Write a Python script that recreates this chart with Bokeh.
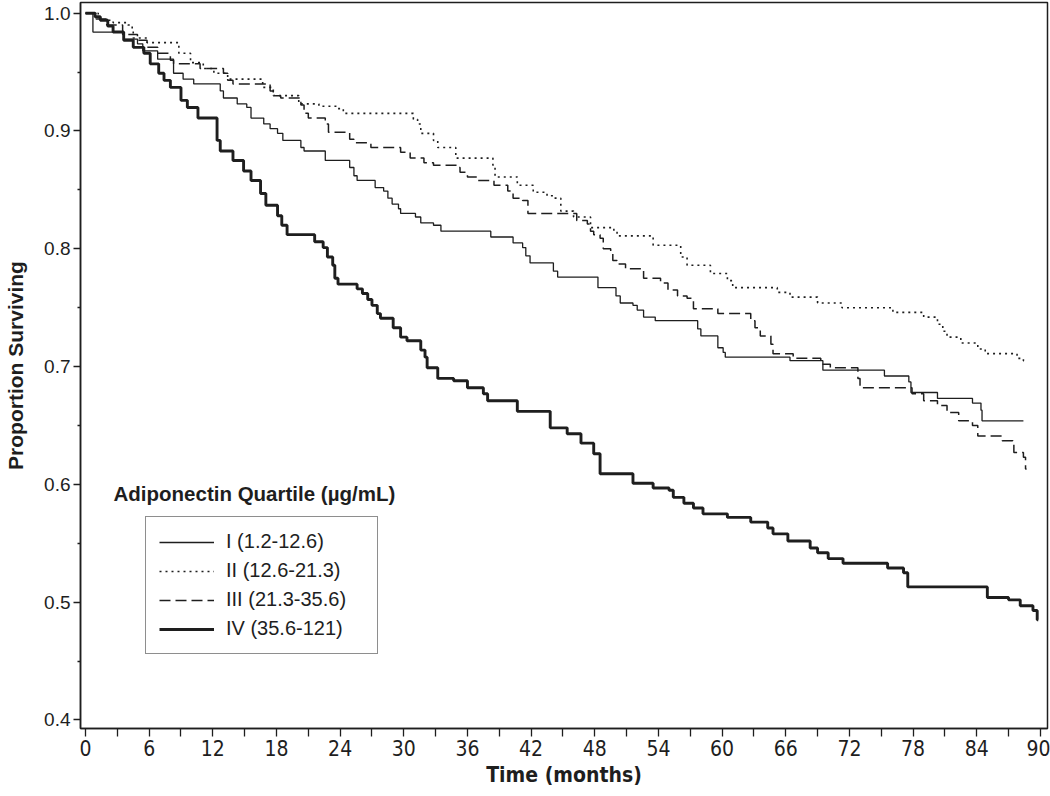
from bokeh.plotting import figure
from bokeh.models import FixedTicker, PrintfTickFormatter, Legend, LegendItem, Label, Range1d
from bokeh.embed import file_html
from bokeh.resources import INLINE

# Kaplan-Meier step data (event time in months, survival after the event)
t_I = [0.7, 3.6, 4.9, 5.4, 6.8, 8.3, 9.2, 10.2, 12.7, 13.0, 14.3, 15.2, 15.6, 16.8, 17.4, 18.1, 18.6,
       20.3, 20.6, 22.6, 24.9, 25.3, 25.6, 27.3, 28.1, 28.5, 28.9, 29.5, 29.7, 31.1, 31.6, 32.8, 33.5,
       38.2, 40.3, 41.2, 41.5, 41.9, 44.1, 44.5, 48.3, 50.0, 50.4, 51.6, 52.0, 52.6, 53.7, 57.7, 58.0,
       59.6, 60.1, 60.3, 66.4, 69.5, 75.3, 77.6, 77.8, 80.3, 83.6, 84.4, 84.5]
s_I = [0.984, 0.978, 0.974, 0.968, 0.961, 0.949, 0.944, 0.940, 0.934, 0.928, 0.923, 0.920, 0.911, 0.906,
       0.902, 0.898, 0.892, 0.886, 0.883, 0.875, 0.869, 0.862, 0.858, 0.852, 0.849, 0.843, 0.838, 0.834,
       0.830, 0.827, 0.822, 0.820, 0.815, 0.810, 0.805, 0.801, 0.794, 0.788, 0.781, 0.776, 0.767, 0.760,
       0.754, 0.752, 0.748, 0.742, 0.739, 0.732, 0.726, 0.716, 0.712, 0.708, 0.705, 0.697, 0.692, 0.687,
       0.678, 0.673, 0.669, 0.663, 0.654]
end_I = 88.4

t_II = [1.2, 1.7, 2.6, 4.0, 4.4, 4.5, 5.8, 8.8, 9.9, 11.1, 12.1, 13.4, 16.7, 17.7, 20.1, 22.0, 23.8,
        24.3, 30.9, 31.3, 31.6, 32.8, 33.2, 34.9, 38.4, 38.6, 40.7, 42.2, 43.5, 44.1, 44.8, 46.0, 47.6,
        49.8, 50.1, 53.5, 56.1, 56.7, 58.9, 60.5, 61.0, 65.2, 66.4, 69.0, 71.3, 76.1, 79.0, 80.3, 80.8,
        81.2, 82.5, 84.1, 84.8, 87.8, 88.4]
s_II = [0.996, 0.994, 0.992, 0.990, 0.984, 0.979, 0.975, 0.966, 0.958, 0.953, 0.949, 0.944, 0.937,
        0.930, 0.923, 0.921, 0.919, 0.915, 0.910, 0.906, 0.898, 0.892, 0.886, 0.877, 0.871, 0.861,
        0.854, 0.848, 0.845, 0.843, 0.832, 0.827, 0.818, 0.815, 0.811, 0.803, 0.793, 0.786, 0.779,
        0.773, 0.767, 0.763, 0.759, 0.754, 0.750, 0.746, 0.742, 0.736, 0.730, 0.725, 0.720, 0.715,
        0.711, 0.707, 0.705]
end_II = 88.8

t_III = [1.0, 2.0, 3.5, 4.9, 5.8, 6.8, 8.0, 8.3, 10.8, 13.0, 13.4, 13.9, 17.4, 17.7, 18.4, 20.3, 20.6,
         21.0, 22.6, 22.9, 24.9, 25.3, 26.9, 29.7, 30.6, 31.9, 32.8, 35.1, 35.3, 36.0, 37.0, 38.5, 39.8,
         40.3, 41.2, 41.7, 46.3, 47.3, 47.6, 47.9, 48.5, 48.8, 49.5, 49.7, 50.1, 50.9, 52.6, 54.2, 54.9,
         55.8, 56.7, 57.3, 59.6, 62.7, 63.1, 63.6, 64.6, 64.8, 66.7, 69.3, 70.2, 72.8, 73.0, 77.9, 79.0,
         80.3, 81.2, 82.3, 83.6, 84.1, 86.4, 87.4, 87.5, 88.4, 88.6]
s_III = [0.995, 0.990, 0.982, 0.977, 0.971, 0.966, 0.960, 0.957, 0.953, 0.949, 0.943, 0.940, 0.934,
         0.930, 0.928, 0.922, 0.915, 0.911, 0.906, 0.899, 0.893, 0.890, 0.886, 0.882, 0.877, 0.873,
         0.871, 0.869, 0.865, 0.861, 0.858, 0.854, 0.849, 0.843, 0.841, 0.830, 0.824, 0.821, 0.815,
         0.812, 0.809, 0.800, 0.798, 0.790, 0.787, 0.783, 0.775, 0.771, 0.765, 0.760, 0.758, 0.749,
         0.745, 0.739, 0.733, 0.726, 0.719, 0.711, 0.707, 0.702, 0.699, 0.690, 0.682, 0.677, 0.671,
         0.667, 0.661, 0.654, 0.650, 0.641, 0.637, 0.635, 0.627, 0.623, 0.613]
end_III = 88.7

t_IV = [0.9, 1.4, 2.1, 2.6, 3.6, 4.5, 5.5, 6.1, 6.9, 7.4, 8.0, 9.0, 9.6, 10.6, 12.4, 12.7, 13.9, 14.9,
        15.6, 16.5, 17.0, 18.1, 18.5, 19.0, 21.6, 22.4, 22.8, 23.3, 23.5, 23.8, 25.6, 26.1, 26.6, 27.0,
        27.5, 27.8, 29.0, 29.7, 30.3, 31.6, 32.0, 32.2, 33.2, 34.7, 36.0, 37.5, 37.9, 40.7, 43.8, 45.4,
        46.7, 47.9, 48.5, 51.6, 53.5, 55.0, 55.4, 56.4, 57.3, 58.2, 60.5, 62.7, 64.3, 64.8, 66.2, 68.3,
        69.0, 70.0, 71.4, 75.6, 77.1, 77.5, 85.0, 87.0, 88.1, 89.3, 89.7]
s_IV = [0.997, 0.994, 0.989, 0.984, 0.977, 0.971, 0.966, 0.957, 0.949, 0.943, 0.937, 0.926, 0.920,
        0.911, 0.892, 0.883, 0.875, 0.866, 0.858, 0.847, 0.837, 0.828, 0.820, 0.812, 0.806, 0.801,
        0.793, 0.786, 0.775, 0.770, 0.766, 0.762, 0.757, 0.752, 0.745, 0.741, 0.733, 0.725, 0.722,
        0.714, 0.708, 0.699, 0.690, 0.688, 0.682, 0.677, 0.671, 0.662, 0.648, 0.643, 0.635, 0.626,
        0.609, 0.601, 0.597, 0.595, 0.589, 0.584, 0.580, 0.575, 0.572, 0.568, 0.563, 0.558, 0.552,
        0.546, 0.542, 0.537, 0.533, 0.529, 0.525, 0.513, 0.504, 0.502, 0.497, 0.493, 0.485]
end_IV = 89.8

labels = ["I (1.2-12.6)", "II (12.6-21.3)", "III (21.3-35.6)", "IV (35.6-121)"]
legend_title = "Adiponectin Quartile (\u00b5g/mL)"
x_major = list(range(0, 91, 6))
x_minor = list(range(3, 91, 6))
y_major = [0.4, 0.5, 0.6, 0.7, 0.8, 0.9, 1.0]
y_minor = [0.45, 0.55, 0.65, 0.75, 0.85, 0.95]

INK = "#1e1e1e"
NARROW = "'DejaVu Sans Condensed', 'Liberation Sans'"

p = figure(width=1050, height=796, output_backend="svg", toolbar_location=None,
           x_range=Range1d(-0.471, 90.67), y_range=Range1d(0.39278, 1.00908),
           min_border_left=80, min_border_right=3, min_border_top=2, min_border_bottom=68)
p.background_fill_color = "white"
p.border_fill_color = "white"
p.outline_line_color = INK
p.outline_line_width = 1.5
p.grid.visible = False


def km(t, s, end):
    xs = [0.0] + list(t) + [end]
    ys = [1.0] + list(s) + [s[-1]]
    return xs, ys


styles = [
    dict(line_width=1.3, line_dash="solid"),
    dict(line_width=1.6, line_dash="2 4"),
    dict(line_width=1.5, line_dash="11 5"),
    dict(line_width=2.9, line_dash="solid"),
]
series = [(t_I, s_I, end_I), (t_II, s_II, end_II), (t_III, s_III, end_III), (t_IV, s_IV, end_IV)]
renderers = []
for (t, s, e), st in zip(series, styles):
    xs, ys = km(t, s, e)
    r = p.step(xs, ys, mode="after", line_color=INK, **st)
    renderers.append(r)

# axes
p.xaxis.ticker = FixedTicker(ticks=x_major, minor_ticks=x_minor)
p.yaxis.ticker = FixedTicker(ticks=y_major, minor_ticks=y_minor)
p.yaxis.formatter = PrintfTickFormatter(format="%.1f")
for ax in (p.xaxis, p.yaxis):
    ax.axis_line_color = INK
    ax.axis_line_width = 1.5
    ax.major_tick_line_color = INK
    ax.minor_tick_line_color = INK
    ax.major_tick_line_width = 1.3
    ax.minor_tick_line_width = 1.3
    ax.major_tick_in = 0
    ax.minor_tick_in = 0
    ax.major_label_text_color = INK
    ax.axis_label_text_color = INK

p.xaxis.major_tick_out = 8
p.xaxis.minor_tick_out = 8
p.xaxis.major_label_text_font = NARROW
p.xaxis.major_label_text_font_size = "21px"
p.xaxis.major_label_standoff = 3
p.xaxis.axis_label = "Time (months)"
p.xaxis.axis_label_text_font = NARROW
p.xaxis.axis_label_text_font_style = "bold"
p.xaxis.axis_label_text_font_size = "21px"
p.xaxis.axis_label_standoff = 4

p.yaxis.major_tick_out = 7
p.yaxis.minor_tick_out = 3
p.yaxis.major_label_text_font = "Liberation Sans"
p.yaxis.major_label_text_font_size = "19px"
p.yaxis.major_label_standoff = 3
p.yaxis.axis_label = "Proportion Surviving"
p.yaxis.axis_label_text_font = "Liberation Sans"
p.yaxis.axis_label_text_font_style = "bold"
p.yaxis.axis_label_text_font_size = "21px"
p.yaxis.axis_label_standoff = 14

legend = Legend(items=[LegendItem(label=lab, renderers=[r]) for lab, r in zip(labels, renderers)],
                location=(65, 74), glyph_width=55, glyph_height=20, label_standoff=12,
                padding=13, spacing=6, label_width=138, margin=0,
                border_line_color=INK, border_line_width=1.5, background_fill_color="white",
                background_fill_alpha=1.0, label_text_font="Liberation Sans",
                label_text_font_size="20px", label_text_color=INK)
p.add_layout(legend)

title = Label(x=2.64, y=0.5923, text=legend_title, text_font="Liberation Sans",
              text_font_style="bold", text_font_size="20.5px", text_color=INK,
              text_baseline="middle", text_align="left")
p.add_layout(title)

open("out.html", "w").write(file_html(p, INLINE))
